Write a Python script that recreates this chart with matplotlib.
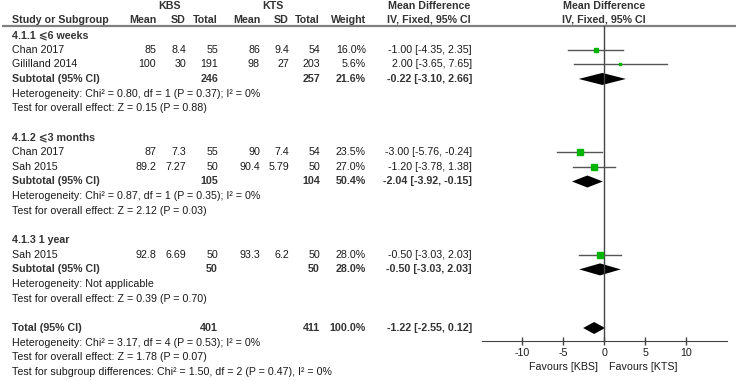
import matplotlib
matplotlib.use("Agg")
import matplotlib.pyplot as plt

plt.rcParams["font.family"] = ["Liberation Sans", "DejaVu Sans"]
plt.rcParams["axes.unicode_minus"] = False

# ---- data ----
groups = ["4.1.1 \u2a7d6 weeks", "4.1.2 \u2a7d3 months", "4.1.3 1 year"]
study_names = [["Chan 2017", "Gililland 2014"], ["Chan 2017", "Sah 2015"], ["Sah 2015"]]
kbs_mean = [[85, 100], [87, 89.2], [92.8]]
kbs_sd = [[8.4, 30], [7.3, 7.27], [6.69]]
kbs_n = [[55, 191], [55, 50], [50]]
kts_mean = [[86, 98], [90, 90.4], [93.3]]
kts_sd = [[9.4, 27], [7.4, 5.79], [6.2]]
kts_n = [[54, 203], [54, 50], [50]]
weight = [[16.0, 5.6], [23.5, 27.0], [28.0]]
md = [[-1.00, 2.00], [-3.00, -1.20], [-0.50]]
md_lo = [[-4.35, -3.65], [-5.76, -3.78], [-3.03]]
md_hi = [[2.35, 7.65], [-0.24, 1.38], [2.03]]

sub_kbs_n = [246, 105, 50]
sub_kts_n = [257, 104, 50]
sub_weight = [21.6, 50.4, 28.0]
sub_md = [-0.22, -2.04, -0.50]
sub_lo = [-3.10, -3.92, -3.03]
sub_hi = [2.66, -0.15, 2.03]
sub_het = ["Heterogeneity: Chi\u00b2 = 0.80, df = 1 (P = 0.37); I\u00b2 = 0%",
           "Heterogeneity: Chi\u00b2 = 0.87, df = 1 (P = 0.35); I\u00b2 = 0%",
           "Heterogeneity: Not applicable"]
sub_test = ["Test for overall effect: Z = 0.15 (P = 0.88)",
            "Test for overall effect: Z = 2.12 (P = 0.03)",
            "Test for overall effect: Z = 0.39 (P = 0.70)"]

tot_kbs_n, tot_kts_n, tot_weight = 401, 411, 100.0
tot_md, tot_lo, tot_hi = -1.22, -2.55, 0.12
tot_lines = ["Heterogeneity: Chi\u00b2 = 3.17, df = 4 (P = 0.53); I\u00b2 = 0%",
             "Test for overall effect: Z = 1.78 (P = 0.07)",
             "Test for subgroup differences: Chi\u00b2 = 1.50, df = 2 (P = 0.47), I\u00b2 = 0%"]

ticks = [-10, -5, 0, 5, 10]

# ---- layout (pixels) ----
W, H = 738, 381
Y0, DY = 35.0, 14.65
X_NAME = 12
X_COLS = [156, 186, 218, 260, 289, 320, 366, 472]  # right edges
FS = 7.7
TXT = "#1a1a1a"
HDR = "#333333"
GREEN = "#00b300"

fig = plt.figure(figsize=(W / 100, H / 100), dpi=100)
tax = fig.add_axes([0, 0, 1, 1])
tax.set_xlim(0, W); tax.set_ylim(H, 0); tax.axis("off")

fax = fig.add_axes([482 / W, 0, 245 / W, 1])
fax.set_xlim(-14.9, 15.0); fax.set_ylim(H, 0)
fax.patch.set_visible(False)
for s in ["top", "left", "right"]:
    fax.spines[s].set_visible(False)
AXIS_Y = 341
fax.spines["bottom"].set_position(("data", AXIS_Y))
fax.spines["bottom"].set_color("#444444")
fax.set_yticks([])
fax.set_xticks(ticks)
fax.set_xticklabels([str(t) for t in ticks])
fax.tick_params(axis="x", direction="inout", length=6, width=1, color="#444444",
                labelsize=FS, labelcolor=TXT, pad=2)


def t(x, y, s, ha="left", bold=False, color=None):
    tax.text(x, y, s, ha=ha, va="center", fontsize=FS,
             fontweight="bold" if bold else "normal",
             color=color or (HDR if bold else TXT))


def fmt_md(m, lo, hi):
    return f"{m:.2f} [{lo:.2f}, {hi:.2f}]"


# headers
t(170, 6, "KBS", ha="center", bold=True)
t(273, 6, "KTS", ha="center", bold=True)
t(429, 6, "Mean Difference", ha="center", bold=True)
t(604, 6, "Mean Difference", ha="center", bold=True)
t(429, 20, "IV, Fixed, 95% CI", ha="center", bold=True)
t(604, 20, "IV, Fixed, 95% CI", ha="center", bold=True)
t(X_NAME, 20, "Study or Subgroup", bold=True)
for x, lab in zip(X_COLS[:7], ["Mean", "SD", "Total", "Mean", "SD", "Total", "Weight"]):
    t(x, 20, lab, ha="right", bold=True)
tax.plot([2, 736], [26, 26], color="#808080", lw=1.6, solid_capstyle="butt")

# zero line
fax.plot([0, 0], [26, AXIS_Y], color="#444444", lw=1)

row = 0
for g in range(len(groups)):
    t(X_NAME, Y0 + row * DY, groups[g], bold=True)
    row += 1
    for i, name in enumerate(study_names[g]):
        y = Y0 + row * DY
        t(X_NAME, y, name)
        vals = [f"{kbs_mean[g][i]:g}", f"{kbs_sd[g][i]:g}", f"{kbs_n[g][i]}",
                f"{kts_mean[g][i]:g}", f"{kts_sd[g][i]:g}", f"{kts_n[g][i]}",
                f"{weight[g][i]:.1f}%", fmt_md(md[g][i], md_lo[g][i], md_hi[g][i])]
        for x, v in zip(X_COLS, vals):
            t(x, y, v, ha="right")
        fax.plot([md_lo[g][i], md_hi[g][i]], [y, y], color="#555555", lw=1)
        fax.plot(md[g][i], y, "s", color=GREEN, mec=GREEN,
                 ms=0.76 * weight[g][i] ** 0.5)
        row += 1
    y = Y0 + row * DY
    t(X_NAME, y, "Subtotal (95% CI)", bold=True)
    t(X_COLS[2], y, f"{sub_kbs_n[g]}", ha="right", bold=True)
    t(X_COLS[5], y, f"{sub_kts_n[g]}", ha="right", bold=True)
    t(X_COLS[6], y, f"{sub_weight[g]:.1f}%", ha="right", bold=True)
    t(X_COLS[7], y, fmt_md(sub_md[g], sub_lo[g], sub_hi[g]), ha="right", bold=True)
    fax.fill([sub_lo[g], sub_md[g], sub_hi[g], sub_md[g]], [y, y - 6, y, y + 6],
             color="black", lw=0)
    row += 1
    t(X_NAME, Y0 + row * DY, sub_het[g]); row += 1
    t(X_NAME, Y0 + row * DY, sub_test[g]); row += 1
    row += 1

y = Y0 + row * DY
t(X_NAME, y, "Total (95% CI)", bold=True)
t(X_COLS[2], y, f"{tot_kbs_n}", ha="right", bold=True)
t(X_COLS[5], y, f"{tot_kts_n}", ha="right", bold=True)
t(X_COLS[6], y, f"{tot_weight:.1f}%", ha="right", bold=True)
t(X_COLS[7], y, fmt_md(tot_md, tot_lo, tot_hi), ha="right", bold=True)
fax.fill([tot_lo, tot_md, tot_hi, tot_md], [y, y - 6, y, y + 6], color="black", lw=0)
row += 1
for line in tot_lines:
    t(X_NAME, Y0 + row * DY, line)
    row += 1

t(598, 367, "Favours [KBS]", ha="right")
t(609, 367, "Favours [KTS]")

fig.savefig("out.png", dpi=100)
